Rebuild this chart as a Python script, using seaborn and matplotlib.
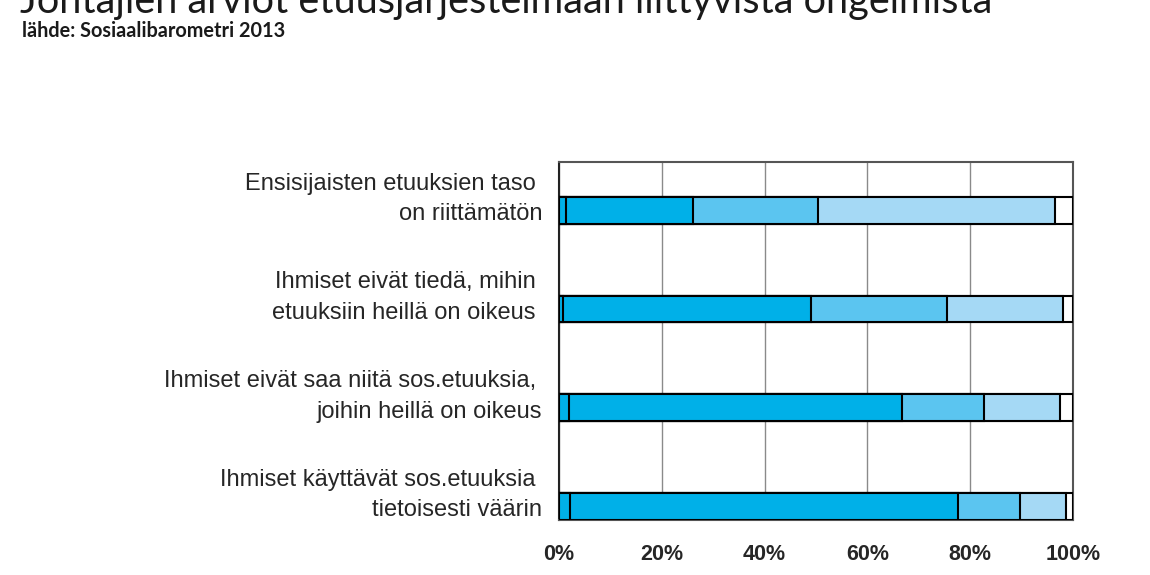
import numpy as np
import matplotlib
matplotlib.use("Agg")
import matplotlib.pyplot as plt
import seaborn as sns
from matplotlib.transforms import ScaledTranslation

# ---- data (percent shares) ----
categories = [
    "Ensisijaisten etuuksien taso \non riittämätön",
    "Ihmiset eivät tiedä, mihin \netuuksiin heillä on oikeus ",
    "Ihmiset eivät saa niitä sos.etuuksia, \njoihin heillä on oikeus",
    "Ihmiset käyttävät sos.etuuksia \ntietoisesti väärin",
]
seg_names = ["seg1", "seg2", "seg3", "seg4", "seg5"]
seg1 = [1.4, 0.7, 1.9, 2.2]
seg2 = [24.7, 48.3, 64.9, 75.4]
seg3 = [24.3, 26.5, 15.9, 12.1]
seg4 = [46.1, 22.6, 14.8, 8.9]
seg5 = [3.5, 1.9, 2.5, 1.4]
seg_colors = ["#00b0e8", "#00b0e8", "#5bc5f0", "#a5d9f5", "#ffffff"]
xticks = [0, 20, 40, 60, 80, 100]
xticklabels = ["0%", "20%", "40%", "60%", "80%", "100%"]
title = "Johtajien arviot etuusjärjestelmään liittyvistä ongelmista"
subtitle = "lähde: Sosiaalibarometri 2013"

segments = np.array([seg1, seg2, seg3, seg4, seg5])
cum = np.cumsum(segments, axis=0)

sns.set_style("white")
plt.rcParams["font.family"] = ["Liberation Sans", "DejaVu Sans"]

fig = plt.figure(figsize=(11.5, 5.75), dpi=100)
ax = fig.add_axes([559 / 1150, 1 - 520 / 575, 514 / 1150, (520 - 162) / 575])

# draw stacked bars: longest cumulative layer first
for j in range(len(seg_names) - 1, -1, -1):
    sns.barplot(x=cum[j], y=categories, order=categories, orient="h",
                color=seg_colors[j], saturation=1, edgecolor="black",
                linewidth=1.5, width=0.27, ax=ax, zorder=3)

ax.set_xlim(0, 100)
ax.set_ylim(3.14, -0.49)
ax.set_xlabel("")
ax.set_ylabel("")
ax.set_xticks(xticks)
ax.set_xticklabels(xticklabels, fontsize=15.5, fontweight="bold")
ax.tick_params(axis="x", length=5, width=1.2, color="#555555", direction="out", pad=12)
ax.tick_params(axis="y", length=0, pad=12)
ax.set_yticks(range(len(categories)))
ax.set_yticklabels(categories, fontsize=17, linespacing=1.5)
off = ScaledTranslation(0, 0.18, fig.dpi_scale_trans)
for lab in ax.get_yticklabels():
    lab.set_transform(lab.get_transform() + off)

ax.grid(axis="x", color="#8a8a8a", linewidth=1, zorder=0)
ax.grid(axis="y", visible=False)
ax.set_axisbelow(True)
for side, sp in ax.spines.items():
    sp.set_visible(True)
    sp.set_color("#555555")
    sp.set_linewidth(1.5)
ax.spines["left"].set_color("#222222")

fig.text(20 / 1150, 1 - 13 / 575, title, fontsize=28.6, family=["Lato", "DejaVu Sans"],
         ha="left", va="baseline", color="#1a1a1a")
fig.text(22 / 1150, 1 - 37 / 575, subtitle, fontsize=14.3, fontweight="bold",
         family=["Lato", "DejaVu Sans"], ha="left", va="baseline", color="#1a1a1a")

fig.savefig("out.png", dpi=100)
